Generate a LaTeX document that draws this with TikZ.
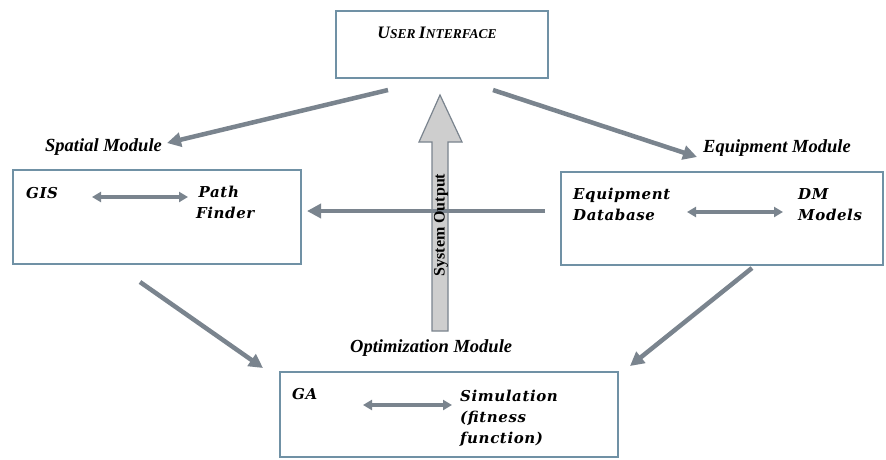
\documentclass[tikz,border=0pt]{standalone}
\usepackage{fontspec}
\setmainfont{Liberation Serif}
\newfontfamily\innerfont[LetterSpace=4]{DejaVu Serif}
\usetikzlibrary{arrows.meta}
\definecolor{boxc}{RGB}{112,145,165}
\definecolor{arrc}{RGB}{122,132,142}
\definecolor{fillc}{RGB}{206,206,206}
\begin{document}
\begin{tikzpicture}[x=1pt,y=-1pt,
  box/.style={draw=boxc, line width=1.6pt, anchor=north west, inner sep=0pt},
  modlbl/.style={font=\fontsize{18.5}{20}\selectfont\bfseries\itshape, inner sep=0pt, anchor=base west},
  inlbl/.style={font=\innerfont\fontsize{15}{21}\selectfont\bfseries\itshape, align=left, inner sep=0pt, anchor=base west},
  conn/.style={draw=arrc, line width=4.5pt, -{Triangle[length=14pt,width=14pt]}},
  dbl/.style={draw=arrc, line width=3.5pt, {Triangle[length=9pt,width=10pt]}-{Triangle[length=9pt,width=10pt]}}]
\useasboundingbox (0,0) rectangle (886,459);
\fill[white] (0,0) rectangle (886,459);

% boxes
\node[box, minimum width=212pt, minimum height=67pt] (ui) at (335,10) {};
\node[box, minimum width=288pt, minimum height=94pt] (sp) at (12,169) {};
\node[box, minimum width=322pt, minimum height=93pt] (eq) at (560,171) {};
\node[box, minimum width=338pt, minimum height=85pt] (opt) at (279,371) {};

% titles
\node[font=\bfseries\itshape, inner sep=0pt, anchor=base] (uit) at (437,38)
  {\fontsize{17.5}{20}\selectfont U\fontsize{13.5}{20}\selectfont SER \fontsize{17.5}{20}\selectfont I\fontsize{13.5}{20}\selectfont NTERFACE};
\node[modlbl] (spl) at (45,151) {Spatial Module};
\node[modlbl] (eql) at (703,152) {Equipment Module};
\node[modlbl] (optl) at (350,352) {Optimization Module};

% inner texts (anchor at baseline of last line)
\node[inlbl] (gis) at (26,198) {GIS};
\node[inlbl] (pf) at (196,218) {\,Path\\Finder};
\node[inlbl] (edb) at (573,220) {Equipment\\Database};
\node[inlbl] (dm) at (798,220) {DM\\Models};
\node[inlbl] (ga) at (292,399) {GA};
\node[inlbl] (sim) at (460,443) {Simulation\\(fitness\\function)};

% inner double arrows
\coordinate (s1) at (92,197); \coordinate (s2) at (188,197);
\coordinate (e1) at (687,212); \coordinate (e2) at (783,212);
\coordinate (o1) at (363,405); \coordinate (o2) at (452,405);
\draw[dbl] (s1) -- (s2);
\draw[dbl] (e1) -- (e2);
\draw[dbl] (o1) -- (o2);

% connectors
\coordinate (ua) at (388,90); \coordinate (ub) at (493,90);
\coordinate (spt) at (167,143); \coordinate (eqt) at (697,157);
\coordinate (spb) at (140,282); \coordinate (optlt) at (263,368);
\coordinate (eqb) at (752,268); \coordinate (optrt) at (630,366);
\coordinate (eqw) at (545,211); \coordinate (spe) at (307,211);
\draw[conn] (ua) -- (spt);
\draw[conn] (ub) -- (eqt);
\draw[conn] (spb) -- (optlt);
\draw[conn] (eqb) -- (optrt);

% system output arrow
\draw[draw=arrc, fill=fillc, line width=1.2pt, line join=miter]
  (432,331) -- (432,142) -- (419,142) -- (440,95) -- (462,142) -- (448,142) -- (448,331) -- cycle;
\draw[conn] (eqw) -- (spe);
\node[rotate=90, font=\fontsize{16}{18}\selectfont\bfseries, inner sep=0pt] (so) at (441,225) {System Output};
\end{tikzpicture}
\end{document}
